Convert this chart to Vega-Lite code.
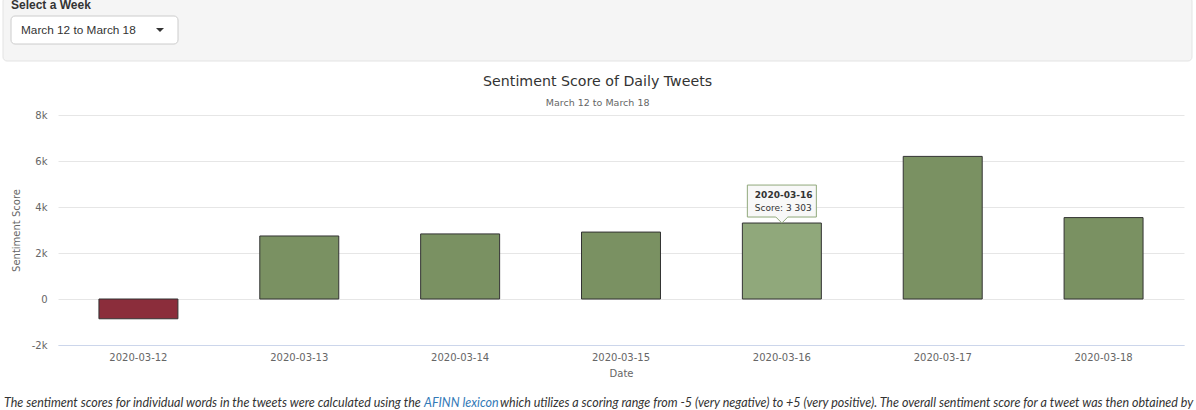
{
  "$schema": "https://vega.github.io/schema/vega-lite/v6.json",
  "background": "white",
  "padding": {"left": 2, "top": -4, "right": 0, "bottom": 0},
  "bounds": "flush",
  "spacing": 54,
  "config": {"view": {"stroke": null}},
  "vconcat": [
    {
      "width": 1126,
      "height": 60,
      "layer": [
        {
          "data": {"values": [{"part": "panel"}]},
          "mark": {"type": "rect", "fill": "#f5f5f5", "stroke": "#e3e3e3", "strokeWidth": 1, "cornerRadius": 4},
          "encoding": {
            "x": {"datum": -55, "type": "quantitative", "scale": {"domain": [0, 1126], "nice": false, "zero": false}, "axis": null},
            "x2": {"datum": 1134},
            "y": {"datum": -4, "type": "quantitative", "scale": {"domain": [0, 60], "range": [0, 60], "nice": false, "zero": false}, "axis": null},
            "y2": {"datum": 60}
          }
        },
        {
          "data": {"values": [{"label": "Select a Week"}]},
          "mark": {"type": "text", "align": "left", "baseline": "alphabetic", "font": "Liberation Sans", "fontSize": 12, "fontWeight": "bold", "color": "#333"},
          "encoding": {
            "x": {"datum": -47, "type": "quantitative"},
            "y": {"datum": 8, "type": "quantitative"},
            "text": {"field": "label"}
          }
        },
        {
          "data": {"values": [{"part": "dropdown"}]},
          "mark": {"type": "rect", "fill": "white", "stroke": "#cccccc", "strokeWidth": 1, "cornerRadius": 4},
          "encoding": {
            "x": {"datum": -47, "type": "quantitative"},
            "x2": {"datum": 120},
            "y": {"datum": 15, "type": "quantitative"},
            "y2": {"datum": 43}
          }
        },
        {
          "data": {"values": [{"label": "March 12 to March 18"}]},
          "mark": {"type": "text", "align": "left", "baseline": "alphabetic", "font": "Liberation Sans", "fontSize": 11.8, "color": "#333"},
          "encoding": {
            "x": {"datum": -37, "type": "quantitative"},
            "y": {"datum": 33, "type": "quantitative"},
            "text": {"field": "label"}
          }
        },
        {
          "data": {"values": [{"part": "caret"}]},
          "mark": {"type": "point", "shape": "M-1,-0.5L1,-0.5L0,0.5Z", "size": 64, "filled": true, "color": "#333", "opacity": 1},
          "encoding": {
            "x": {"datum": 102, "type": "quantitative"},
            "y": {"datum": 29, "type": "quantitative"}
          }
        }
      ]
    },
    {
      "width": 1126,
      "height": 230,
      "title": {
        "text": "Sentiment Score of Daily Tweets",
        "subtitle": "March 12 to March 18",
        "font": "DejaVu Sans",
        "fontSize": 14.2,
        "fontWeight": "normal",
        "color": "#333333",
        "subtitleFont": "DejaVu Sans",
        "subtitleFontSize": 9.5,
        "subtitleColor": "#666666",
        "subtitlePadding": 8,
        "offset": 3,
        "anchor": "middle",
        "frame": "bounds"
      },
      "data": {
        "values": [
          {"date": "2020-03-12", "score": -860},
          {"date": "2020-03-13", "score": 2740},
          {"date": "2020-03-14", "score": 2830},
          {"date": "2020-03-15", "score": 2910},
          {"date": "2020-03-16", "score": 3303},
          {"date": "2020-03-17", "score": 6200},
          {"date": "2020-03-18", "score": 3540}
        ]
      },
      "encoding": {
        "x": {
          "field": "date",
          "type": "ordinal",
          "scale": {"paddingInner": 0.509, "paddingOuter": 0.2545},
          "axis": {
            "title": "Date",
            "labelAngle": 0,
            "labelFont": "DejaVu Sans",
            "labelFontSize": 10,
            "labelColor": "#666666",
            "labelPadding": 7,
            "ticks": false,
            "domainColor": "#ccd6eb",
            "grid": false,
            "titleFont": "DejaVu Sans",
            "titleFontSize": 10,
            "titleFontWeight": "normal",
            "titleColor": "#666666",
            "titlePadding": 6,
            "zindex": 1
          }
        },
        "y": {
          "field": "score",
          "type": "quantitative",
          "scale": {"domain": [-2000, 8000], "nice": false},
          "axis": {
            "title": "Sentiment Score",
            "values": [-2000, 0, 2000, 4000, 6000, 8000],
            "labelExpr": "datum.value == 0 ? '0' : (datum.value / 1000) + 'k'",
            "labelFont": "DejaVu Sans",
            "labelFontSize": 10,
            "labelColor": "#666666",
            "labelPadding": 11,
            "domain": false,
            "ticks": false,
            "grid": true,
            "gridColor": "#e6e6e6",
            "titleFont": "DejaVu Sans",
            "titleFontSize": 10,
            "titleFontWeight": "normal",
            "titleColor": "#666666",
            "titlePadding": 10
          }
        }
      },
      "layer": [
        {
          "params": [
            {
              "name": "hover",
              "select": {"type": "point", "fields": ["date"], "on": "pointerover", "clear": "pointerout"},
              "value": [{"date": "2020-03-16"}]
            }
          ],
          "mark": {"type": "bar", "stroke": "#333333", "strokeWidth": 1},
          "encoding": {
            "color": {
              "condition": [
                {"param": "hover", "empty": false, "value": "#90a87b"},
                {"test": "datum.score < 0", "value": "#8b2d3b"}
              ],
              "value": "#7a9162"
            }
          }
        },
        {
          "transform": [{"filter": {"param": "hover", "empty": false}}],
          "mark": {
            "type": "point",
            "shape": "M-1,-1.101L1,-1.101L1,-0.174L0.174,-0.174L0,0L-0.174,-0.174L-1,-0.174Z",
            "size": 4761,
            "filled": true,
            "fill": "#f7f7f7",
            "fillOpacity": 0.92,
            "stroke": "#90a87b",
            "strokeWidth": 1,
            "opacity": 1
          }
        },
        {
          "transform": [{"filter": {"param": "hover", "empty": false}}],
          "mark": {"type": "text", "align": "left", "baseline": "middle", "dx": -27, "dy": -28, "font": "DejaVu Sans", "fontSize": 9, "fontWeight": "bold", "color": "#333333"},
          "encoding": {"text": {"field": "date"}}
        },
        {
          "transform": [
            {"filter": {"param": "hover", "empty": false}},
            {"calculate": "'Score: ' + replace(format(datum.score, ','), ',', ' ')", "as": "label"}
          ],
          "mark": {"type": "text", "align": "left", "baseline": "middle", "dx": -27, "dy": -15, "font": "DejaVu Sans", "fontSize": 9, "color": "#333333"},
          "encoding": {"text": {"field": "label"}}
        }
      ]
    },
    {
      "width": 1126,
      "height": 12,
      "layer": [
        {
          "data": {"values": [{"label": "The sentiment scores for individual words in the tweets were calculated using the"}]},
          "mark": {"type": "text", "align": "left", "baseline": "alphabetic", "font": "Lato", "fontSize": 12.5, "fontStyle": "italic", "color": "#333333"},
          "encoding": {
            "x": {"datum": -54, "type": "quantitative", "scale": {"domain": [0, 1126], "nice": false, "zero": false}, "axis": null},
            "y": {"datum": 8, "type": "quantitative", "scale": {"domain": [0, 12], "range": [0, 12], "nice": false, "zero": false}, "axis": null},
            "text": {"field": "label"}
          }
        },
        {
          "data": {"values": [{"label": "AFINN lexicon"}]},
          "mark": {"type": "text", "align": "left", "baseline": "alphabetic", "font": "Lato", "fontSize": 12.5, "fontStyle": "italic", "color": "#337ab7"},
          "encoding": {
            "x": {"datum": 366, "type": "quantitative"},
            "y": {"datum": 8, "type": "quantitative"},
            "text": {"field": "label"}
          }
        },
        {
          "data": {"values": [{"label": "which utilizes a scoring range from -5 (very negative) to +5 (very positive). The overall sentiment score for a tweet was then obtained by"}]},
          "mark": {"type": "text", "align": "left", "baseline": "alphabetic", "font": "Lato", "fontSize": 12.5, "fontStyle": "italic", "color": "#333333"},
          "encoding": {
            "x": {"datum": 442, "type": "quantitative"},
            "y": {"datum": 8, "type": "quantitative"},
            "text": {"field": "label"}
          }
        }
      ]
    }
  ]
}
